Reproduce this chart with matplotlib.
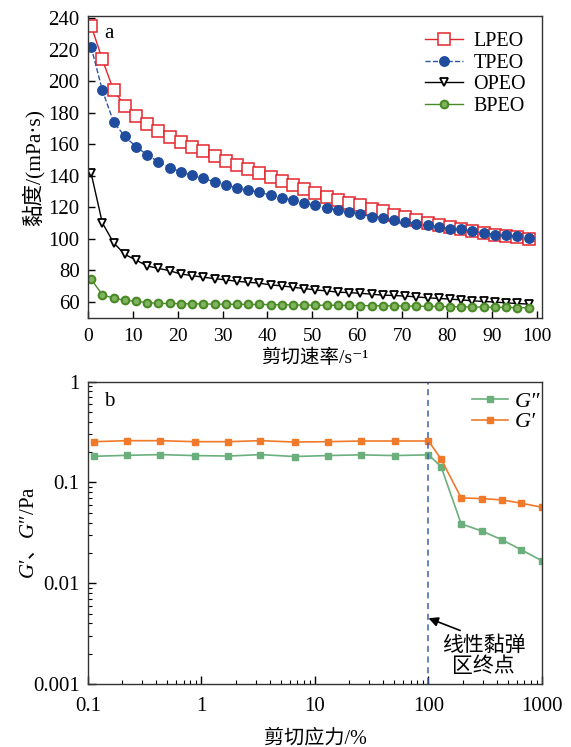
import matplotlib
matplotlib.use("Agg")
import matplotlib.pyplot as plt
from matplotlib.ticker import FuncFormatter, LogLocator, NullFormatter

plt.rcParams["font.family"] = ["Liberation Serif", "Noto Sans CJK SC", "DejaVu Sans"]
plt.rcParams["mathtext.fontset"] = "custom"
plt.rcParams["mathtext.rm"] = "Liberation Serif"
plt.rcParams["mathtext.it"] = "Liberation Serif:italic"
plt.rcParams["mathtext.sf"] = "Noto Sans CJK SC"

# --- panel a: viscosity vs shear rate ---
shear_rate = [0.7, 3.2, 5.7, 8.2, 10.7, 13.2, 15.7, 18.2, 20.7, 23.2,
              25.7, 28.2, 30.7, 33.2, 35.7, 38.2, 40.7, 43.2, 45.7, 48.2,
              50.7, 53.2, 55.7, 58.2, 60.7, 63.2, 65.7, 68.2, 70.7, 73.2,
              75.7, 78.2, 80.7, 83.2, 85.7, 88.2, 90.7, 93.2, 95.7, 98.2]
lpeo = [235.4, 213.9, 194.3, 184.6, 178.1, 172.8, 168.2, 164.8, 161.5, 158.5,
        155.6, 152.6, 149.7, 146.7, 144.2, 141.6, 139.1, 136.4, 133.9, 131.3,
        129.2, 126.5, 124.8, 122.5, 121.2, 118.7, 117.5, 115.0, 113.9, 111.8,
        110.1, 108.6, 107.5, 106.1, 105.0, 103.8, 102.3, 101.9, 101.2, 99.6]
tpeo = [221.9, 194.3, 174.3, 165.0, 158.5, 153.3, 148.9, 145.2, 142.5, 140.2,
        138.3, 136.2, 134.3, 132.2, 131.0, 129.4, 127.8, 126.2, 124.4, 122.5,
        121.2, 119.3, 118.5, 116.8, 115.9, 113.9, 113.5, 111.8, 110.8, 109.7,
        108.6, 107.8, 106.5, 105.9, 105.0, 103.8, 102.7, 102.3, 101.6, 100.6]
opeo = [141.6, 110.1, 97.5, 90.1, 86.5, 82.7, 81.2, 79.7, 77.6, 76.6,
        75.6, 74.7, 73.9, 73.0, 72.4, 71.8, 70.7, 70.1, 69.2, 68.4,
        67.5, 66.9, 66.1, 65.8, 65.4, 64.8, 64.2, 64.0, 63.6, 63.1,
        62.5, 62.1, 61.7, 61.2, 60.6, 60.2, 59.8, 59.3, 58.9, 58.5]
bpeo = [74.3, 64.4, 62.3, 60.9, 60.3, 59.5, 59.0, 58.9, 58.8, 58.7,
        58.6, 58.5, 58.4, 58.4, 58.3, 58.3, 58.2, 58.1, 58.0, 57.9,
        57.8, 57.8, 57.7, 57.7, 57.6, 57.5, 57.5, 57.4, 57.3, 57.2,
        57.1, 57.0, 56.9, 56.8, 56.7, 56.6, 56.5, 56.4, 56.3, 56.2]

# --- panel b: amplitude sweep ---
strain = [0.114, 0.22, 0.434, 0.87, 1.72, 3.31, 6.6, 13.0, 25.5, 50.2,
          100, 129, 194, 294, 444, 656, 1000]
g_storage = [0.254, 0.260, 0.260, 0.254, 0.254, 0.260, 0.252, 0.254, 0.258, 0.258,
             0.258, 0.171, 0.0704, 0.0692, 0.0672, 0.0623, 0.0568]
g_loss = [0.182, 0.186, 0.189, 0.185, 0.183, 0.189, 0.181, 0.185, 0.188, 0.185,
          0.188, 0.144, 0.0388, 0.0331, 0.0270, 0.0215, 0.0167]
lve_end = 100

fig = plt.figure(figsize=(5.71, 7.47), dpi=100)
ax1 = fig.add_axes([0.1541, 0.5739, 0.7951, 0.4047])
ax2 = fig.add_axes([0.1541, 0.0843, 0.7951, 0.4047])

ax1.plot(shear_rate, lpeo, "-", color="#e3262b", lw=1.0, marker="s", ms=8.5,
         mfc="white", mec="#e3262b", mew=1.1, label="LPEO")
ax1.plot(shear_rate, tpeo, "--", color="#2a56a8", lw=1.0, marker="o", ms=6.8,
         mfc="#1f4c9c", mec="#1f4c9c", label="TPEO")
ax1.plot(shear_rate, opeo, "-", color="black", lw=1.0, marker="v", ms=6,
         mfc="white", mec="black", mew=1.3, label="OPEO")
ax1.plot(shear_rate, bpeo, "-", color="#4a8a26", lw=1.0, marker="o", ms=5.5,
         mfc="#7fb35e", mec="#4a8a26", mew=1.5, label="BPEO")

ax1.set_xlim(0, 101.2)
ax1.set_ylim(49.5, 241.5)
ax1.set_xticks(range(0, 101, 10))
ax1.set_yticks(range(60, 241, 20))
ax1.tick_params(direction="in", length=5, width=1)
ax1.tick_params(axis="x", labelsize=14, pad=7)
ax1.tick_params(axis="y", labelsize=15, pad=6)
ax1.set_xlabel("剪切速率/s⁻¹", fontsize=14, labelpad=3)
ax1.set_ylabel("黏度/(mPa·s)", fontsize=15.5, labelpad=3)
ax1.text(0.035, 0.975, "a", transform=ax1.transAxes, fontsize=15, va="top")
ax1.legend(loc="upper right", frameon=False, fontsize=14.5, handlelength=1.9,
           handletextpad=0.5, labelspacing=0.12, borderaxespad=0.4)
for sp in ax1.spines.values():
    sp.set_linewidth(1.0)
    sp.set_color("#333333")

ax2.plot(strain, g_loss, "-", color="#6aaf7c", lw=1.2, marker="s", ms=5,
         label="G″")
ax2.plot(strain, g_storage, "-", color="#f07a2a", lw=1.2, marker="s", ms=5,
         label="G′")
ax2.axvline(lve_end, color="#3a62b5", lw=1.1, ls=(0, (4, 3)))
ax2.annotate("", xy=(lve_end, 0.0045), xytext=(190, 0.0034),
             arrowprops=dict(arrowstyle="-|>", color="black", lw=1.2,
                             mutation_scale=14, shrinkA=0, shrinkB=0))
ax2.text(306, 0.00185, "线性黏弹\n区终点", fontsize=15, ha="center",
         va="center", linespacing=1.1)

ax2.set_xscale("log")
ax2.set_yscale("log")
ax2.set_xlim(0.1, 1000)
ax2.set_ylim(0.001, 1)
fmt = FuncFormatter(lambda v, p: "%g" % v)
ax2.xaxis.set_major_formatter(fmt)
ax2.yaxis.set_major_formatter(fmt)
ax2.xaxis.set_minor_locator(LogLocator(base=10, subs=range(2, 10)))
ax2.yaxis.set_minor_locator(LogLocator(base=10, subs=range(2, 10)))
ax2.xaxis.set_minor_formatter(NullFormatter())
ax2.yaxis.set_minor_formatter(NullFormatter())
ax2.tick_params(which="major", direction="in", length=6, width=1,
                labelsize=15)
ax2.tick_params(axis="x", which="major", pad=9)
ax2.tick_params(axis="y", which="major", pad=6)
ax2.tick_params(which="minor", direction="in", length=3, width=0.8)
ax2.set_xlabel("剪切应力/%", fontsize=14.5, labelpad=10)
ax2.set_ylabel(r"$\mathit{G}′\mathsf{、}\mathit{G}″\mathrm{/Pa}$",
               fontsize=15, labelpad=-4)
ax2.text(0.035, 0.965, "b", transform=ax2.transAxes, fontsize=15, va="top")
ax2.legend(loc="upper right", frameon=False,
           prop=dict(family="Liberation Serif", style="italic", size=16),
           handlelength=1.6, handletextpad=0.3, labelspacing=0.0,
           borderaxespad=0.1, bbox_to_anchor=(1.02, 1.005))
for sp in ax2.spines.values():
    sp.set_linewidth(1.0)
    sp.set_color("#333333")

fig.savefig("out.png", dpi=100)
